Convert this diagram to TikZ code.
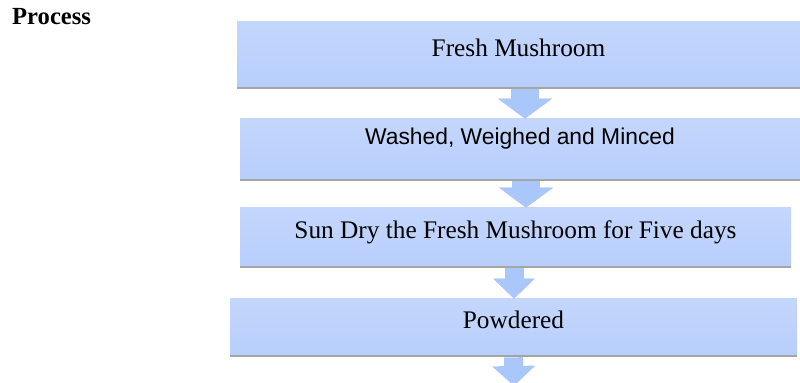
\documentclass[tikz,border=0pt]{standalone}
\usepackage{fontspec}
\setmainfont{Liberation Serif}
\newfontfamily\arialfont{Liberation Sans}
\usetikzlibrary{arrows.meta}

\definecolor{boxtop}{RGB}{196,214,252}
\definecolor{boxbottom}{RGB}{183,206,252}
\definecolor{flowblue}{RGB}{170,199,251}
\definecolor{edgegray}{RGB}{165,165,165}

\begin{document}
\begin{tikzpicture}[
    stepbox/.style={rectangle, top color=boxtop, bottom color=boxbottom, text centered, inner sep=0pt,
        font=\fontsize{14.4}{16}\selectfont, text depth=0.32cm,
        path picture={\draw[edgegray, line width=0.08cm] (path picture bounding box.south west) -- (path picture bounding box.south east);}},
    flowbig/.style={flowblue, line width=0.56cm, -{Triangle[width=1.06cm, length=0.4cm]}},
    flowsmall/.style={flowblue, line width=0.38cm, -{Triangle[width=0.8cm, length=0.4cm]}},
    flowshade/.style={edgegray, opacity=0.6, yshift=-0.04cm}]
    \clip (0,0) rectangle (16,7.66);
    % Nodes
    \node (title) [anchor=west, font=\bfseries\fontsize{14}{16}\selectfont] at (0.12,7.32) {Process};
    \node (fresh) [stepbox, minimum width=11.26cm, minimum height=1.34cm] at (10.37,6.55) {Fresh Mushroom};
    \node (washed) [stepbox, minimum width=11.2cm, minimum height=1.24cm, font=\arialfont\fontsize{13}{15}\selectfont, text depth=0.55cm] at (10.4,4.66) {Washed, Weighed and Minced};
    \node (sundry) [stepbox, minimum width=11.02cm, minimum height=1.2cm] at (10.31,2.9) {Sun Dry the Fresh Mushroom for Five days};
    \node (powdered) [stepbox, minimum width=11.34cm, minimum height=1.16cm] at (10.27,1.1) {Powdered};
    \coordinate (out) at (10.28,-0.06);

    % Arrows
    \draw[flowbig, flowshade] ([xshift=0.13cm]fresh.south) -- ([xshift=0.13cm]fresh.south |- washed.north);
    \draw[flowbig] ([xshift=0.13cm]fresh.south) -- ([xshift=0.13cm]fresh.south |- washed.north);
    \draw[flowbig, flowshade] ([xshift=0.12cm]washed.south) -- ([xshift=0.12cm]washed.south |- sundry.north);
    \draw[flowbig] ([xshift=0.12cm]washed.south) -- ([xshift=0.12cm]washed.south |- sundry.north);
    \draw[flowsmall, flowshade] ([xshift=-0.03cm]sundry.south) -- ([xshift=-0.03cm]sundry.south |- powdered.north);
    \draw[flowsmall] ([xshift=-0.03cm]sundry.south) -- ([xshift=-0.03cm]sundry.south |- powdered.north);
    \draw[flowsmall, -{Triangle[width=0.84cm, length=0.4cm]}] (powdered.south) -- (out);
\end{tikzpicture}
\end{document}
